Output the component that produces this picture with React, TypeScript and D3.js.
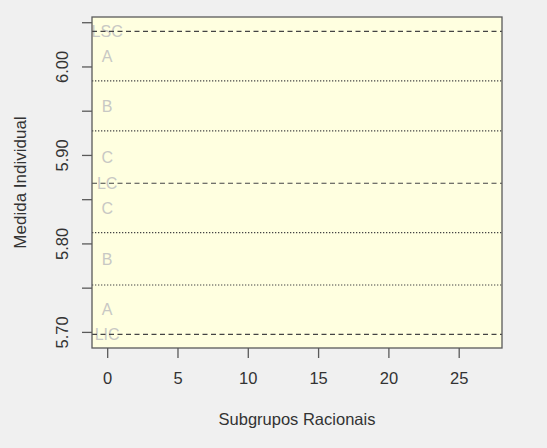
import React, { useEffect, useRef } from "react";
import * as d3 from "d3";

// Limites de controle (linhas tracejadas)
const limitNames = ["LSC", "LC", "LIC"];
const limitValues = [6.0396, 5.868, 5.6973];

// Linhas das zonas (pontilhadas), de cima para baixo
const zoneLineValues = [5.9838, 5.9273, 5.8122, 5.753];
const zoneNames = ["A", "B", "C", "C", "B", "A"];

const yTicks = [5.7, 5.75, 5.8, 5.85, 5.9, 5.95, 6.0, 6.05];
const yTickLabels = ["5.70", "", "5.80", "", "5.90", "", "6.00", ""];
const xTicks = [0, 5, 10, 15, 20, 25];
const xDomain = [-1.08, 28.08];
const yDomain = [5.6818, 6.0559];

const W = 547;
const H = 448;
const margin = { top: 17, right: 45, bottom: 100, left: 92 };

const App: React.FC = () => {
  const svgRef = useRef<SVGSVGElement>(null);

  useEffect(() => {
    if (!svgRef.current) return;
    const svg = d3.select(svgRef.current);
    svg.selectAll("*").remove();

    const x = d3
      .scaleLinear()
      .domain(xDomain)
      .range([margin.left, W - margin.right]);
    const y = d3
      .scaleLinear()
      .domain(yDomain)
      .range([H - margin.bottom, margin.top]);

    const font = "Liberation Sans, Arial, sans-serif";

    // page background
    svg.append("rect").attr("width", W).attr("height", H).attr("fill", "#f0f0f0");

    // plot area
    svg
      .append("rect")
      .attr("x", x(xDomain[0]))
      .attr("y", y(yDomain[1]))
      .attr("width", x(xDomain[1]) - x(xDomain[0]))
      .attr("height", y(yDomain[0]) - y(yDomain[1]))
      .attr("fill", "#ffffe0");

    // zone labels at midpoints between lines
    const allLines = [limitValues[0], ...zoneLineValues.slice(0, 2), limitValues[1], ...zoneLineValues.slice(2), limitValues[2]];
    const mids = d3.pairs(allLines).map(([a, b]) => (a + b) / 2);

    const labels = svg
      .append("g")
      .attr("font-family", font)
      .attr("font-size", 16)
      .attr("fill", "#c8c8c4")
      .attr("text-anchor", "middle");

    labels
      .selectAll("text.zone")
      .data(zoneNames)
      .enter()
      .append("text")
      .attr("class", "zone")
      .attr("x", x(0))
      .attr("y", (_, i) => y(mids[i]))
      .attr("dy", "0.36em")
      .text((d) => d);

    labels
      .selectAll("text.limit")
      .data(limitNames)
      .enter()
      .append("text")
      .attr("class", "limit")
      .attr("x", x(0))
      .attr("y", (_, i) => y(limitValues[i]))
      .attr("dy", "0.36em")
      .text((d) => d);

    // dotted zone lines
    svg
      .selectAll("line.zone")
      .data(zoneLineValues)
      .enter()
      .append("line")
      .attr("x1", x(xDomain[0]))
      .attr("x2", x(xDomain[1]))
      .attr("y1", (d) => y(d))
      .attr("y2", (d) => y(d))
      .attr("stroke", "#444")
      .attr("stroke-width", 1.2)
      .attr("stroke-dasharray", "1.3,1.7");

    // dashed limit lines
    svg
      .selectAll("line.limit")
      .data(limitValues)
      .enter()
      .append("line")
      .attr("x1", x(xDomain[0]))
      .attr("x2", x(xDomain[1]))
      .attr("y1", (d) => y(d))
      .attr("y2", (d) => y(d))
      .attr("stroke", "#444")
      .attr("stroke-width", 1.2)
      .attr("stroke-dasharray", "5,3.5");

    // box
    svg
      .append("rect")
      .attr("x", x(xDomain[0]))
      .attr("y", y(yDomain[1]))
      .attr("width", x(xDomain[1]) - x(xDomain[0]))
      .attr("height", y(yDomain[0]) - y(yDomain[1]))
      .attr("fill", "none")
      .attr("stroke", "#5a5a5a")
      .attr("stroke-width", 1.3);

    // x axis
    const xAxis = svg
      .append("g")
      .attr("transform", `translate(0,${y(yDomain[0])})`)
      .call(
        d3
          .axisBottom(x)
          .tickValues(xTicks)
          .tickSize(10)
          .tickPadding(14)
          .tickFormat((d) => String(d))
      );
    xAxis.select(".domain").remove();
    xAxis.selectAll("line").attr("stroke", "#5a5a5a").attr("stroke-width", 1.3);
    xAxis
      .selectAll("text")
      .attr("font-family", font)
      .attr("font-size", 16.5)
      .attr("fill", "#333");

    // y axis
    const yAxis = svg
      .append("g")
      .attr("transform", `translate(${x(xDomain[0])},0)`)
      .call(
        d3
          .axisLeft(y)
          .tickValues(yTicks)
          .tickSize(10)
          .tickFormat((_, i) => yTickLabels[i])
      );
    yAxis.select(".domain").remove();
    yAxis.selectAll("line").attr("stroke", "#5a5a5a").attr("stroke-width", 1.3);
    yAxis
      .selectAll("text")
      .attr("font-family", font)
      .attr("font-size", 16.5)
      .attr("fill", "#333")
      .attr("x", null)
      .attr("dy", null)
      .attr("text-anchor", "middle")
      .attr("transform", "translate(-30,0) rotate(-90)")
      .attr("y", 0)
      .attr("dominant-baseline", "central");

    // axis titles
    svg
      .append("text")
      .attr("x", (x(xDomain[0]) + x(xDomain[1])) / 2)
      .attr("y", 425)
      .attr("text-anchor", "middle")
      .attr("font-family", font)
      .attr("font-size", 16.5)
      .attr("fill", "#333")
      .text("Subgrupos Racionais");

    svg
      .append("text")
      .attr("transform", `translate(26,${(y(yDomain[0]) + y(yDomain[1])) / 2}) rotate(-90)`)
      .attr("text-anchor", "middle")
      .attr("font-family", font)
      .attr("font-size", 17)
      .attr("fill", "#333")
      .text("Medida Individual");
  }, []);

  return (
    <svg
      ref={svgRef}
      width={W}
      height={H}
      style={{ position: "absolute", left: 0, top: 0 }}
    ></svg>
  );
};

export default App;
